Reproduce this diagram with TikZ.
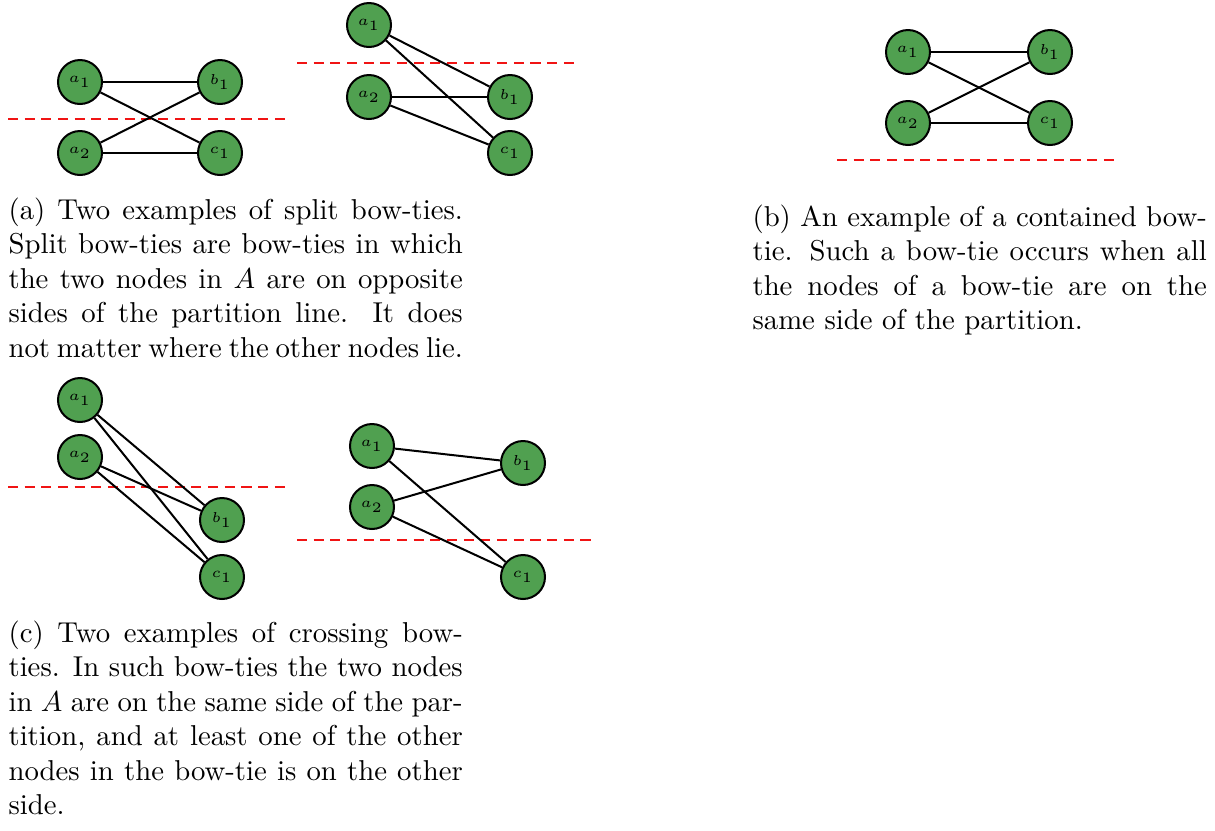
\documentclass[tikz,border=0pt]{standalone}
\usepackage{xcolor}
\definecolor{nodegreen}{RGB}{80,160,80}
\definecolor{partred}{RGB}{240,20,20}
\begin{document}
\begin{tikzpicture}[x=0.34783pt,y=-0.34783pt,
  vert/.style={circle,draw=black,fill=nodegreen,line width=0.7pt,minimum size=15.3pt,inner sep=0pt,font=\tiny},
  link/.style={line width=0.7pt,black},
  partline/.style={draw=partred,line width=0.75pt,dash pattern=on 3.5pt off 2.3pt},
  capt/.style={anchor=base west,text width=158pt,align=justify,inner sep=0pt,font=\normalsize}]
\useasboundingbox (0,0) rectangle (1215,830);

% ---- (a) left
\coordinate (pa1s) at (8,119); \coordinate (pa1e) at (287,119);
\draw[partline] (pa1s) -- (pa1e);
\node[vert] (aA1) at (80,82) {$a_1$};
\node[vert] (aB1) at (220,82) {$b_1$};
\node[vert] (aA2) at (80,153) {$a_2$};
\node[vert] (aC1) at (220,153) {$c_1$};
\draw[link] (aA1) -- (aB1);
\draw[link] (aA1) -- (aC1);
\draw[link] (aA2) -- (aB1);
\draw[link] (aA2) -- (aC1);

% ---- (a) right
\coordinate (pa2s) at (297,63); \coordinate (pa2e) at (575,63);
\draw[partline] (pa2s) -- (pa2e);
\node[vert] (bA1) at (369,25) {$a_1$};
\node[vert] (bA2) at (369,97) {$a_2$};
\node[vert] (bB1) at (510,97) {$b_1$};
\node[vert] (bC1) at (510,153) {$c_1$};
\draw[link] (bA1) -- (bB1);
\draw[link] (bA1) -- (bC1);
\draw[link] (bA2) -- (bB1);
\draw[link] (bA2) -- (bC1);

% ---- (b)
\coordinate (pbs) at (837,160); \coordinate (pbe) at (1115,160);
\draw[partline] (pbs) -- (pbe);
\node[vert] (cA1) at (908,52) {$a_1$};
\node[vert] (cA2) at (908,123) {$a_2$};
\node[vert] (cB1) at (1050,52) {$b_1$};
\node[vert] (cC1) at (1050,123) {$c_1$};
\draw[link] (cA1) -- (cB1);
\draw[link] (cA1) -- (cC1);
\draw[link] (cA2) -- (cB1);
\draw[link] (cA2) -- (cC1);

% ---- (c) left
\coordinate (pc1s) at (8,487); \coordinate (pc1e) at (287,487);
\draw[partline] (pc1s) -- (pc1e);
\node[vert] (dA1) at (80,400) {$a_1$};
\node[vert] (dA2) at (80,457) {$a_2$};
\node[vert] (dB1) at (222,520) {$b_1$};
\node[vert] (dC1) at (222,577) {$c_1$};
\draw[link] (dA1) -- (dB1);
\draw[link] (dA1) -- (dC1);
\draw[link] (dA2) -- (dB1);
\draw[link] (dA2) -- (dC1);

% ---- (c) right
\coordinate (pc2s) at (297,540); \coordinate (pc2e) at (594,540);
\draw[partline] (pc2s) -- (pc2e);
\node[vert] (eA1) at (372,446) {$a_1$};
\node[vert] (eA2) at (372,507) {$a_2$};
\node[vert] (eB1) at (523,463) {$b_1$};
\node[vert] (eC1) at (523,577) {$c_1$};
\draw[link] (eA1) -- (eB1);
\draw[link] (eA1) -- (eC1);
\draw[link] (eA2) -- (eB1);
\draw[link] (eA2) -- (eC1);

% ---- captions
\node[capt] (capA) at (8,219) {(a) Two examples of split bow-ties. Split bow-ties are bow-ties in which the two nodes in $A$ are on opposite sides of the partition line. It does\linebreak not matter where the other nodes lie.};
\node[capt] (capB) at (752,226) {(b) An example of a contained bow-tie. Such a bow-tie occurs when all the nodes of a bow-tie are on the same side of the partition.};
\node[capt] (capC) at (8,642) {(c) Two examples of crossing bow-ties. In such bow-ties the two nodes in $A$ are on the same side of the partition, and at least one of the other nodes in the bow-tie is on the other side.};
\end{tikzpicture}
\end{document}
